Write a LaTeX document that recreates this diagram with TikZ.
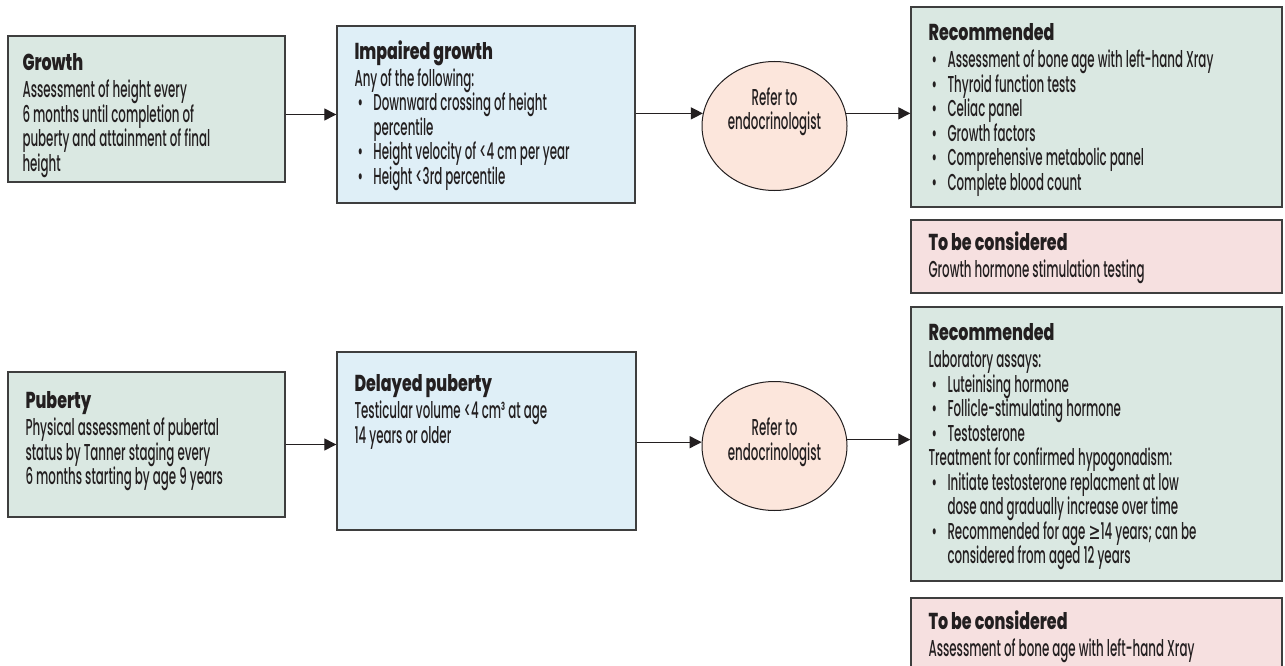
\documentclass[tikz,border=0pt]{standalone}
\usepackage{fontspec}
\setmainfont{Poppins}[UprightFont={Poppins Medium},BoldFont={Poppins ExtraBold},FakeStretch=0.515,BoldFeatures={FakeStretch=0.69}]
\newfontfamily\symfont{DejaVu Sans}[FakeStretch=0.62]
\usetikzlibrary{positioning,shapes.geometric,arrows.meta}
\definecolor{ink}{RGB}{35,31,32}
\definecolor{edge}{RGB}{62,62,62}
\definecolor{boxgreen}{RGB}{218,232,226}
\definecolor{boxblue}{RGB}{223,239,247}
\definecolor{boxpeach}{RGB}{252,230,220}
\definecolor{boxpink}{RGB}{246,224,224}
\newcommand\hd[1]{{\bfseries #1}}
\newcommand\bul{\makebox[19pt][l]{\hspace{3pt}\textbullet}}
\newcommand\ind{\hspace*{19pt}}
\begin{document}
\begin{tikzpicture}[x=1pt,y=-1pt,
  panel/.style={draw=edge,line width=1.4pt,inner sep=0pt},
  txt/.style={inner sep=0pt,align=left,text=ink,font=\fontsize{23}{24.5}\selectfont},
  link/.style={draw=ink,line width=1.3pt,-{Triangle[length=12pt,width=12pt]}}]
\path[fill=white,use as bounding box](0,0)rectangle(1285,666);
%
% growth row
\node[panel,fill=boxgreen,minimum width=277pt,minimum height=146pt](growth)at(146.5,109){};
\node[txt,below right=18pt and 15pt of growth.north west](growthtxt){\hd{Growth}\\[2.5pt]Assessment of height every\\6 months until completion of\\puberty and attainment of final\\height};
\node[panel,fill=boxblue,minimum width=298pt,minimum height=177pt](impaired)at(486,114.5){};
\node[txt,below right=15pt and 18pt of impaired.north west](impairedtxt){\hd{Impaired growth}\\[2.5pt]Any of the following:\\\bul Downward crossing of height\\\ind percentile\\\bul Height velocity of <4 cm per year\\\bul Height <3rd percentile};
\node[ellipse,draw=ink,line width=1pt,fill=boxpeach,minimum width=145pt,minimum height=129pt](ref1)at(774.5,126){};
\node[txt,align=center](ref1txt)at([yshift=14pt]ref1.center){Refer to\\endocrinologist};
\node[panel,fill=boxgreen,minimum width=371pt,minimum height=200pt](rec1)at(1096.5,107){};
\node[txt,below right=17pt and 18pt of rec1.north west](rec1txt){\hd{Recommended}\\[2.5pt]\bul Assessment of bone age with left-hand Xray\\\bul Thyroid function tests\\\bul Celiac panel\\\bul Growth factors\\\bul Comprehensive metabolic panel\\\bul Complete blood count};
\node[panel,fill=boxpink,minimum width=371pt,minimum height=73pt](tbc1)at(1096.5,256.5){};
\node[txt,below right=12pt and 18pt of tbc1.north west](tbc1txt){\hd{To be considered}\\[2.5pt]Growth hormone stimulation testing};
%
% puberty row
\node[panel,fill=boxgreen,minimum width=277pt,minimum height=145pt](puberty)at(146.5,444.5){};
\node[txt,below right=20pt and 18pt of puberty.north west](pubertytxt){\hd{Puberty}\\[2.5pt]Physical assessment of pubertal\\status by Tanner staging every\\6 months starting by age 9 years};
\node[panel,fill=boxblue,minimum width=299pt,minimum height=178pt](delayed)at(486.5,441){};
\node[txt,below right=23pt and 18pt of delayed.north west](delayedtxt){\hd{Delayed puberty}\\[2.5pt]Testicular volume <4 cm³ at age\\14 years or older};
\node[ellipse,draw=ink,line width=1pt,fill=boxpeach,minimum width=145pt,minimum height=129pt](ref2)at(774.5,446){};
\node[txt,align=center](ref2txt)at([yshift=4pt]ref2.center){Refer to\\endocrinologist};
\node[panel,fill=boxgreen,minimum width=371pt,minimum height=274pt](rec2)at(1096.5,444){};
\node[txt,below right=17pt and 18pt of rec2.north west](rec2txt){\hd{Recommended}\\[2.5pt]Laboratory assays:\\\bul Luteinising hormone\\\bul Follicle-stimulating hormone\\\bul Testosterone\\Treatment for confirmed hypogonadism:\\\bul Initiate testosterone replacment at low\\\ind dose and gradually increase over time\\\bul Recommended for age {\symfont ≥}14 years; can be\\\ind considered from aged 12 years};
\node[panel,fill=boxpink,minimum width=371pt,minimum height=69pt](tbc2)at(1096.5,632.5){};
\node[txt,below right=13pt and 18pt of tbc2.north west](tbc2txt){\hd{To be considered}\\[2.5pt]Assessment of bone age with left-hand Xray};
%
\draw[link](growth.east |- impaired.west)--(impaired.west);
\draw[link](impaired.east |- ref1.170)--(ref1.170);
\draw[link](ref1.10)--(ref1.10 -| rec1.west);
\draw[link](puberty.east)--(puberty.east -| delayed.west);
\draw[link](delayed.east |- ref2.177)--(ref2.177);
\draw[link](ref2.5)--(ref2.5 -| rec2.west);
\end{tikzpicture}
\end{document}
